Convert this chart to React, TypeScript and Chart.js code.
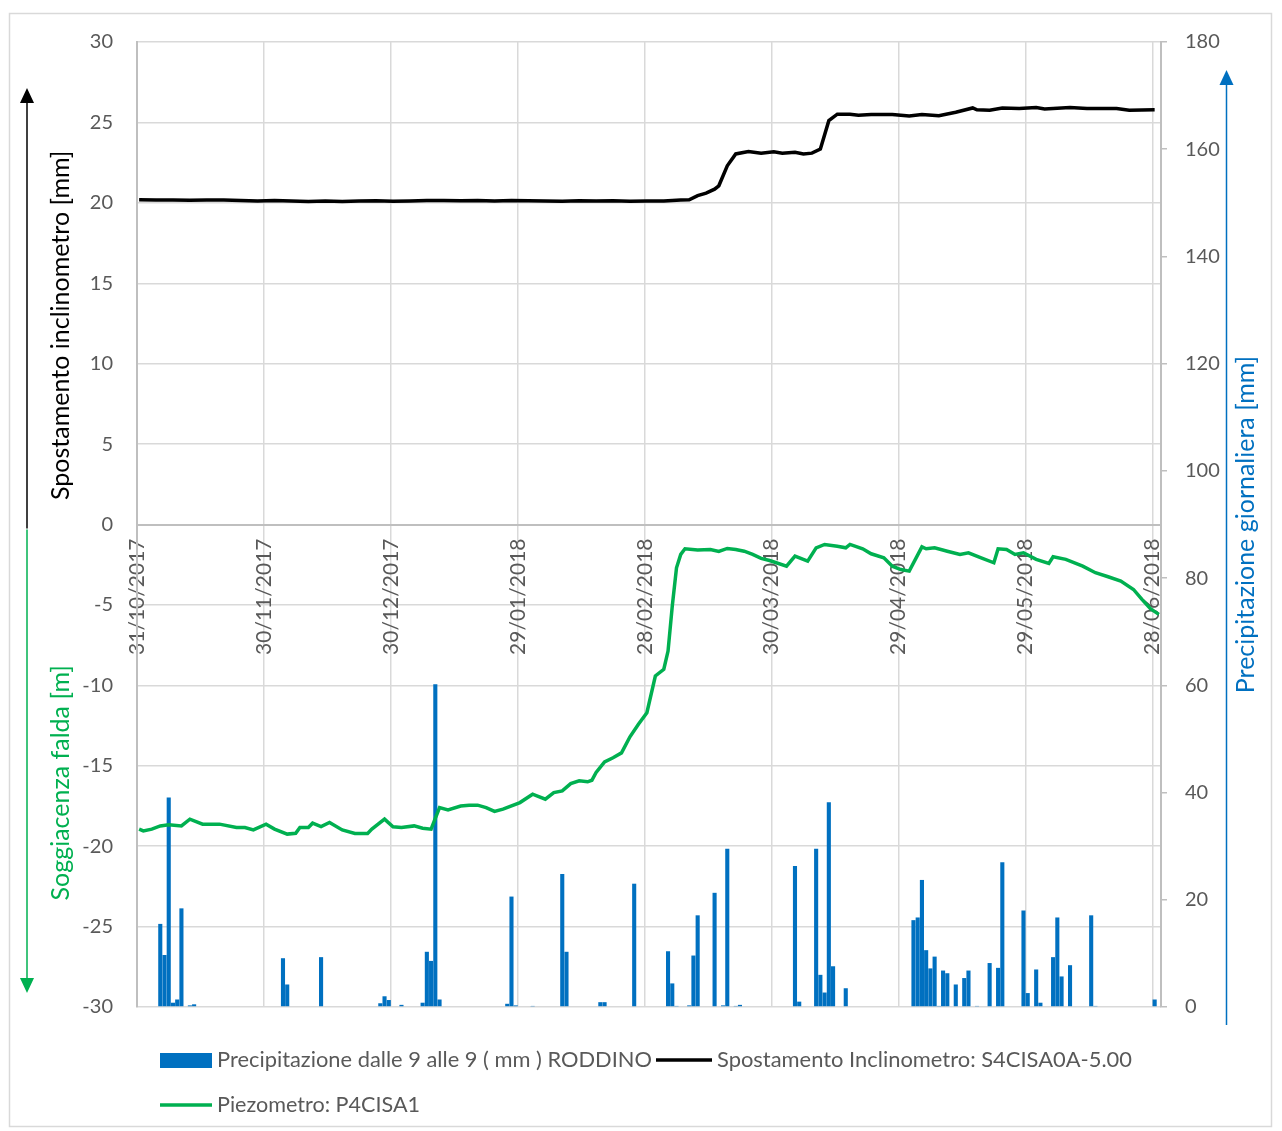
import React, { useEffect, useRef } from 'react';
import { Chart, registerables } from 'chart.js';

Chart.register(...registerables);

// x axis: day index, 0 = 31/10/2017
const tickDays = [0, 30, 60, 90, 120, 150, 180, 210, 240];
const tickLabels = ['31/10/2017', '30/11/2017', '30/12/2017', '29/01/2018', '28/02/2018', '30/03/2018', '29/04/2018', '29/05/2018', '28/06/2018'];

const leftTicks = { min: -30, max: 30, step: 5 };
const rightTicks = { min: 0, max: 180, step: 20 };

// Precipitazione dalle 9 alle 9 (mm) RODDINO
const rainDays = [5, 6, 7, 8, 9, 10, 12, 13, 34, 35, 43, 57, 58, 59, 62, 67, 68, 69, 70, 71, 87, 88, 89, 93, 100, 101, 109, 110, 117, 125, 126, 127, 130, 131, 132, 136, 138, 139, 141, 142, 155, 156, 160, 161, 162, 163, 164, 167, 183, 184, 185, 186, 187, 188, 189, 190, 191, 193, 195, 196, 198, 201, 203, 204, 209, 210, 212, 213, 216, 217, 218, 220, 225, 226, 240];
const rainValues = [15.5, 9.7, 39.1, 0.8, 1.4, 18.4, 0.3, 0.5, 9.1, 4.2, 9.3, 0.7, 2.0, 1.3, 0.4, 0.8, 10.3, 8.6, 60.2, 1.4, 0.6, 20.6, 0.3, 0.2, 24.8, 10.3, 0.9, 0.9, 23.0, 10.4, 4.4, 0.2, 0.3, 9.6, 17.1, 21.3, 0.3, 29.5, 0.2, 0.4, 26.3, 1.0, 29.5, 6.0, 2.7, 38.2, 7.6, 3.5, 16.2, 16.7, 23.7, 10.6, 7.2, 9.4, 0.2, 6.8, 6.3, 4.2, 5.4, 6.8, 0.2, 8.2, 7.3, 27.0, 18.0, 2.6, 7.0, 0.8, 9.3, 16.7, 5.7, 7.8, 17.1, 0.2, 1.4];

// Spostamento Inclinometro: S4CISA0A-5.00 (mm)
const inclDays = [0, 4, 8, 12, 16, 20, 24, 28, 32, 36, 40, 44, 48, 52, 56, 60, 64, 68, 72, 76, 80, 84, 88, 92, 96, 100, 104, 108, 112, 116, 120, 124, 128, 130, 132, 134, 136, 137, 139, 141, 144, 147, 150, 152, 155, 157, 159, 161, 163, 165, 168, 170, 173, 178, 182, 185, 189, 193, 197, 198, 201, 204, 208, 212, 214, 220, 224, 231, 234, 240];
const inclValues = [20.19, 20.17, 20.18, 20.16, 20.18, 20.17, 20.15, 20.12, 20.14, 20.11, 20.09, 20.12, 20.08, 20.11, 20.13, 20.10, 20.12, 20.14, 20.15, 20.13, 20.15, 20.12, 20.14, 20.13, 20.12, 20.10, 20.13, 20.11, 20.13, 20.10, 20.12, 20.11, 20.17, 20.19, 20.45, 20.6, 20.85, 21.06, 22.3, 23.04, 23.19, 23.09, 23.17, 23.09, 23.15, 23.04, 23.09, 23.34, 25.11, 25.51, 25.51, 25.45, 25.49, 25.49, 25.40, 25.49, 25.42, 25.63, 25.90, 25.78, 25.76, 25.90, 25.86, 25.92, 25.84, 25.92, 25.86, 25.86, 25.76, 25.78];

// Piezometro: P4CISA1 (m)
const piezoDays = [0, 1, 3, 5, 7, 10, 12, 15, 19, 23, 25, 27, 30, 32, 35, 37, 38, 40, 41, 43, 45, 48, 51, 54, 55, 58, 60, 62, 65, 67, 69, 71, 73, 76, 78, 80, 82, 84, 86, 90, 93, 94, 96, 98, 100, 102, 104, 106, 107, 108, 110, 112, 114, 116, 118, 120, 122, 124, 125, 126, 127, 128, 129, 132, 135, 137, 139, 141, 143, 145, 147, 149, 153, 155, 158, 160, 162, 165, 167, 168, 171, 173, 176, 178, 180, 182, 185, 186, 188, 191, 194, 196, 199, 202, 203, 205, 207, 209, 212, 215, 216, 219, 223, 226, 229, 232, 235, 237, 239, 241];
const piezoValues = [-18.94, -19.05, -18.94, -18.74, -18.67, -18.74, -18.32, -18.63, -18.63, -18.84, -18.84, -18.99, -18.63, -18.94, -19.25, -19.2, -18.84, -18.84, -18.57, -18.78, -18.53, -18.99, -19.21, -19.21, -18.94, -18.32, -18.8, -18.84, -18.74, -18.88, -18.94, -17.6, -17.74, -17.5, -17.45, -17.45, -17.6, -17.84, -17.7, -17.29, -16.77, -16.87, -17.08, -16.67, -16.56, -16.11, -15.94, -16.0, -15.9, -15.42, -14.76, -14.5, -14.2, -13.2, -12.42, -11.7, -9.42, -9.0, -7.87, -5.07, -2.69, -1.86, -1.51, -1.59, -1.55, -1.68, -1.49, -1.55, -1.66, -1.86, -2.11, -2.24, -2.59, -1.97, -2.28, -1.45, -1.24, -1.35, -1.45, -1.24, -1.51, -1.82, -2.07, -2.59, -2.8, -2.9, -1.39, -1.51, -1.45, -1.66, -1.86, -1.76, -2.07, -2.38, -1.51, -1.55, -1.86, -1.76, -2.17, -2.42, -2.01, -2.17, -2.59, -3.0, -3.25, -3.52, -4.04, -4.66, -5.24, -5.59];

const seriesNames = ['Precipitazione dalle 9 alle 9 ( mm ) RODDINO', 'Spostamento Inclinometro: S4CISA0A-5.00', 'Piezometro: P4CISA1'];
const leftTitleTop = 'Spostamento inclinometro [mm]';
const leftTitleBottom = 'Soggiacenza falda [m]';
const rightTitle = 'Precipitazione giornaliera [mm]';

const BLUE = '#0070c0';
const GREEN = '#00b050';
const BLACK = '#000000';
const GREY_TXT = '#595959';
const GRID = '#d9d9d9';
const AXIS = '#bfbfbf';
const FONT = 'Lato';
const DAY_CENTER = 0.5; // each day is centred in its one-day cell

const pts = (days: number[], vals: number[]) => days.map((d, i) => ({ x: d + DAY_CENTER, y: vals[i] }));

const decorPlugin = {
  id: 'decor',
  beforeDraw(chart: any) {
    const ctx = chart.ctx;
    ctx.save();
    ctx.fillStyle = '#ffffff';
    ctx.fillRect(0, 0, chart.width, chart.height);
    ctx.strokeStyle = GRID;
    ctx.lineWidth = 1.5;
    ctx.strokeRect(9.5, 13.5, 1262, 1113);
    ctx.restore();
  },
  afterDraw(chart: any) {
    const ctx = chart.ctx;
    const area = chart.chartArea;
    const yL = chart.scales.y;
    const zeroY = yL.getPixelForValue(0);
    ctx.save();
    const vtext = (t: string, x: number, y: number, color: string, w: number) => {
      ctx.save();
      ctx.translate(x, y);
      ctx.rotate(-Math.PI / 2);
      ctx.font = `25px ${FONT}`;
      ctx.fillStyle = color;
      ctx.textAlign = 'center';
      ctx.textBaseline = 'middle';
      ctx.fillText(t, 0, 0, w);
      ctx.restore();
    };
    vtext(leftTitleTop, 61, (area.top + zeroY) / 2 + 42, BLACK, 350);
    vtext(leftTitleBottom, 61, (zeroY + area.bottom) / 2 + 17, GREEN, 236);
    vtext(rightTitle, 1246, (area.top + area.bottom) / 2, BLUE, 340);

    const arrow = (x: number, y0: number, y1: number, color: string) => {
      const dir = y1 < y0 ? -1 : 1;
      ctx.strokeStyle = color;
      ctx.fillStyle = color;
      ctx.lineWidth = 1.5;
      ctx.beginPath();
      ctx.moveTo(x, y0);
      ctx.lineTo(x, y1 - dir * 14);
      ctx.stroke();
      ctx.beginPath();
      ctx.moveTo(x, y1);
      ctx.lineTo(x - 7, y1 - dir * 15);
      ctx.lineTo(x + 7, y1 - dir * 15);
      ctx.closePath();
      ctx.fill();
    };
    arrow(27, zeroY + 4, 88, BLACK);
    arrow(27, zeroY + 5, 993, GREEN);
    arrow(1226.5, 1025, 70, BLUE);

    // legend
    ctx.font = `22px ${FONT}`;
    ctx.textAlign = 'left';
    ctx.textBaseline = 'middle';
    const r1 = 1060, r2 = 1105;
    ctx.fillStyle = BLUE;
    ctx.fillRect(160, r1 - 7, 52, 15);
    ctx.fillStyle = GREY_TXT;
    ctx.fillText(seriesNames[0], 217, r1, 435);
    ctx.strokeStyle = BLACK;
    ctx.lineWidth = 3.5;
    ctx.beginPath(); ctx.moveTo(656, r1); ctx.lineTo(712, r1); ctx.stroke();
    ctx.fillText(seriesNames[1], 717, r1, 415);
    ctx.strokeStyle = GREEN;
    ctx.beginPath(); ctx.moveTo(160, r2); ctx.lineTo(212, r2); ctx.stroke();
    ctx.fillText(seriesNames[2], 217, r2, 203);
    ctx.restore();
  },
};

export default function App() {
  const ref = useRef<HTMLCanvasElement | null>(null);
  useEffect(() => {
    if (!ref.current) return;
    Chart.defaults.font.family = FONT;
    const tickFont = { family: FONT, size: 20 };
    const chart = new Chart(ref.current, {
      type: 'bar',
      data: {
        datasets: [
          {
            type: 'line',
            label: seriesNames[2],
            data: pts(piezoDays, piezoValues),
            borderColor: GREEN,
            backgroundColor: GREEN,
            borderWidth: 3.5,
            pointRadius: 0,
            tension: 0,
            yAxisID: 'y',
            order: 1,
          },
          {
            type: 'line',
            label: seriesNames[1],
            data: pts(inclDays, inclValues),
            borderColor: BLACK,
            backgroundColor: BLACK,
            borderWidth: 3.5,
            pointRadius: 0,
            tension: 0,
            yAxisID: 'y',
            order: 1,
          },
          {
            type: 'bar',
            label: seriesNames[0],
            data: pts(rainDays, rainValues),
            backgroundColor: BLUE,
            borderWidth: 0,
            barPercentage: 0.97,
            categoryPercentage: 1,
            grouped: false,
            yAxisID: 'y2',
            order: 2,
          } as any,
        ],
      },
      options: {
        responsive: false,
        animation: false,
        layout: { padding: { top: 42, bottom: 124, left: 0, right: 0 } },
        plugins: { legend: { display: false }, tooltip: { enabled: false } },
        scales: {
          x: {
            type: 'linear',
            min: 0,
            max: 242,
            offset: false,
            position: { y: 0 } as any,
            afterBuildTicks: (s: any) => { s.ticks = tickDays.map((v) => ({ value: v })); },
            afterFit: (s: any) => { s.height = 0; },
            ticks: {
              autoSkip: false,
              minRotation: 90,
              maxRotation: 90,
              padding: 14,
              color: GREY_TXT,
              font: { family: FONT, size: 21 },
              callback: (v: any) => { const i = tickDays.indexOf(Number(v)); return i >= 0 ? tickLabels[i] : ''; },
            },
            grid: { color: GRID, lineWidth: 1.5, drawTicks: false, offset: false },
            border: { color: AXIS, width: 2 },
          },
          y: {
            type: 'linear',
            position: 'left',
            min: leftTicks.min,
            max: leftTicks.max,
            afterFit: (s: any) => { s.width = 137; },
            ticks: { stepSize: leftTicks.step, padding: 24, color: GREY_TXT, font: tickFont },
            grid: {
              color: (c: any) => (c.tick && c.tick.value === 0 ? AXIS : GRID),
              lineWidth: (c: any) => (c.tick && c.tick.value === 0 ? 2 : 1.5),
              drawTicks: false,
            },
            border: { color: AXIS, width: 2 },
          },
          y2: {
            type: 'linear',
            position: 'right',
            min: rightTicks.min,
            max: rightTicks.max,
            afterFit: (s: any) => { s.width = 121; },
            ticks: { stepSize: rightTicks.step, padding: 18, color: GREY_TXT, font: tickFont },
            grid: { drawOnChartArea: false, tickLength: 6, color: AXIS, lineWidth: 1.5 },
            border: { color: AXIS, width: 2 },
          },
        },
      } as any,
      plugins: [decorPlugin],
    });
    return () => chart.destroy();
  }, []);
  return (
    <div style={{ position: 'absolute', left: 0, top: 0, width: 1282, height: 1131 }}>
      <canvas ref={ref} width={1282} height={1131} />
    </div>
  );
}
